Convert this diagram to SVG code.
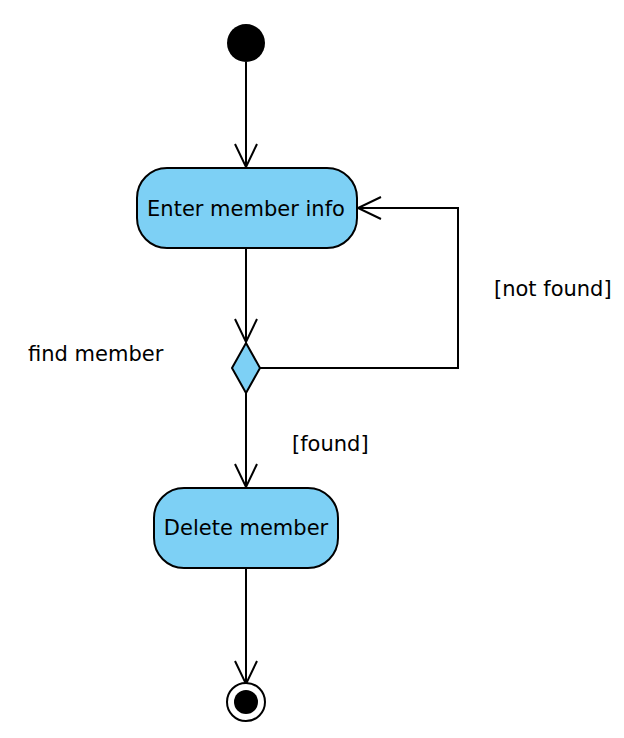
<svg xmlns="http://www.w3.org/2000/svg" width="624" height="738" viewBox="0 0 624 738">
<defs>
<style>
.act{fill:#7dd0f5;stroke:#000;stroke-width:2}
.ln{fill:none;stroke:#000;stroke-width:2}
text{font-family:"DejaVu Sans","Liberation Sans",sans-serif;font-size:21px;fill:#000}
.c{text-anchor:middle}
</style>
<marker id="arr" markerWidth="30" markerHeight="30" refX="24" refY="12" orient="auto" markerUnits="userSpaceOnUse">
<path d="M1,1 L24,12 L1,23" fill="none" stroke="#000" stroke-width="2"/>
</marker>
</defs>
<rect width="624" height="738" fill="#fff"/>
<g id="connectors">
<line class="ln" x1="246" y1="62" x2="246" y2="167" marker-end="url(#arr)"/>
<line class="ln" x1="246" y1="248" x2="246" y2="342" marker-end="url(#arr)"/>
<polyline class="ln" points="260,368 458,368 458,208 358,208" marker-end="url(#arr)"/>
<line class="ln" x1="246" y1="393" x2="246" y2="487" marker-end="url(#arr)"/>
<line class="ln" x1="246" y1="568" x2="246" y2="684" marker-end="url(#arr)"/>
</g>
<g id="start"><circle cx="246" cy="43" r="19" fill="#000"/></g>
<g id="enter"><rect class="act" x="137" y="168" width="220" height="80" rx="30"/><text class="c" x="246" y="216">Enter member info</text></g>
<g id="decision"><polygon class="act" points="246,343 260,368 246,393 232,368"/><text x="28" y="361">find member</text></g>
<g id="delete"><rect class="act" x="154" y="488" width="184" height="80" rx="30"/><text class="c" x="246" y="535">Delete member</text></g>
<g id="end"><circle cx="246" cy="702" r="19" fill="#fff" stroke="#000" stroke-width="2"/><circle cx="246" cy="702" r="12" fill="#000"/></g>
<g id="labels"><text x="494" y="296">[not found]</text><text x="292" y="451">[found]</text></g>
</svg>
